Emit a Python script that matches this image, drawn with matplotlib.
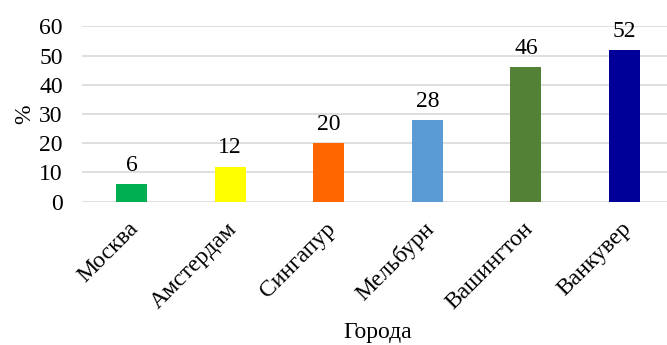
import matplotlib.pyplot as plt
import matplotlib.transforms as mtransforms
import numpy as np

# Доля по городам, %
cities = ["Москва", "Амстердам", "Сингапур", "Мельбурн", "Вашингтон", "Ванкувер"]
values = [6, 12, 20, 28, 46, 52]
colors = ["#00b050", "#ffff00", "#ff6600", "#5b9bd5", "#538135", "#000099"]
y_ticks = [0, 10, 20, 30, 40, 50, 60]

plt.rcParams['font.family'] = ['Liberation Serif', 'DejaVu Serif']
fs = 17

fig = plt.figure(figsize=(6.67, 3.45), dpi=100)
ax = fig.add_axes([0.1232, 0.4154, 0.8870, 0.5084])

x = np.arange(len(cities))
bars = ax.bar(x, values, width=0.315, color=colors, zorder=3)
for rect, v in zip(bars, values):
    ax.text(rect.get_x() + rect.get_width() / 2, v + 4.5, str(v),
            ha='center', va='baseline', fontsize=fs, zorder=4)

ax.set_xlim(-0.5, len(cities) - 0.5)
ax.set_ylim(0, 60)
ax.set_yticks(y_ticks)
ax.set_xticks(x)
ax.set_xticklabels(cities, rotation=45, ha='right', va='top',
                   rotation_mode='anchor', fontsize=fs)
ax.tick_params(axis='both', length=0, labelsize=fs)
ax.tick_params(axis='y', pad=14)
ax.tick_params(axis='x', pad=12)

# сдвиг подписей городов чуть влево
shift = mtransforms.ScaledTranslation(-4 / 100, 0, fig.dpi_scale_trans)
for lbl in ax.get_xticklabels():
    lbl.set_transform(lbl.get_transform() + shift)

ax.grid(axis='y', color='#d9d9d9', linewidth=1.2, zorder=0)
for s in ax.spines.values():
    s.set_visible(False)

ax.set_ylabel("%", fontsize=fs, labelpad=3)
ax.set_xlabel("Города", fontsize=fs, labelpad=6)

fig.savefig("out.png", dpi=100)
